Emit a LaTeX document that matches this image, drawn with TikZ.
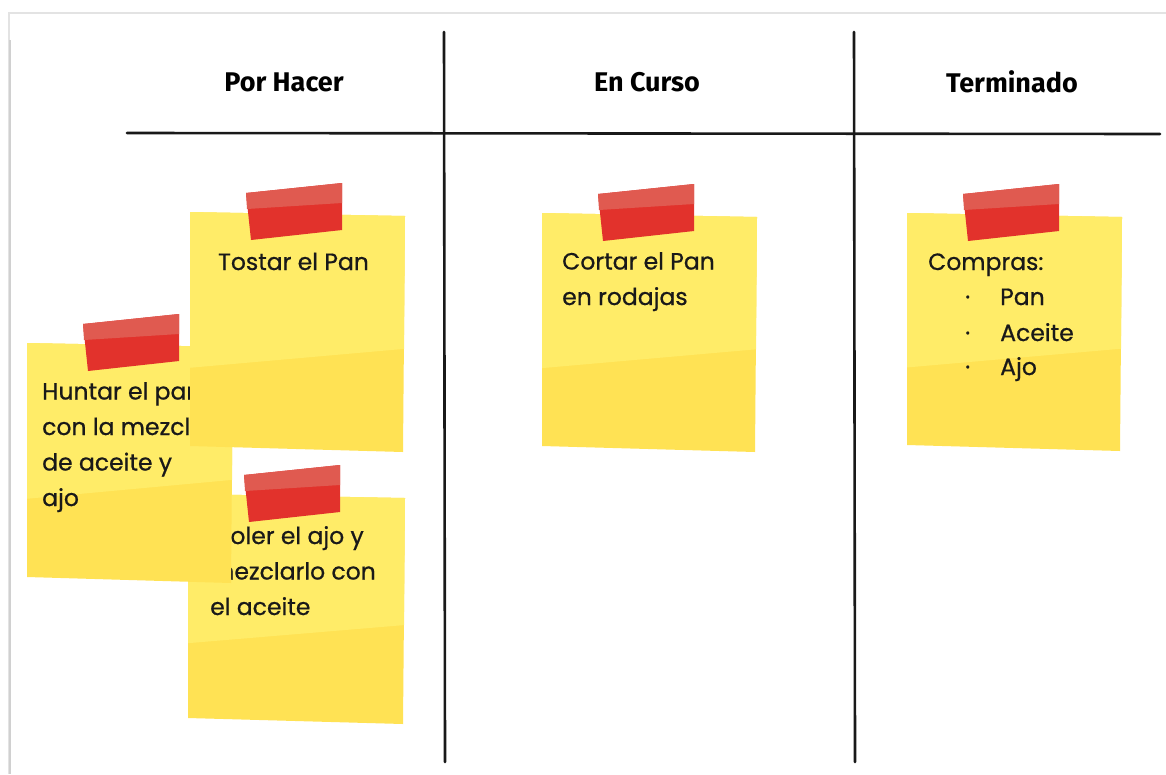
\documentclass[tikz,border=0pt]{standalone}
\usepackage{fontspec}
\setmainfont{Poppins}
\newfontfamily\notefont{Poppins}[FakeBold=0.7]
\newfontfamily\hdrfont{Fira Sans}
\definecolor{notelight}{HTML}{FFEC68}
\definecolor{notedark}{HTML}{FFE254}
\definecolor{tapelight}{HTML}{E05A50}
\definecolor{tapedark}{HTML}{E2322C}
\definecolor{framegray}{HTML}{D0D0D0}
\newcommand{\stickynote}[4]{%
  \fill[notedark] (#1,#2) -- (#1+#3,#2+4) -- (#1+#3-2,#2+#4+4) -- (#1,#2+#4-2) -- cycle;
  \fill[notelight] (#1,#2) -- (#1+#3,#2+4) -- (#1+#3-1,#2+0.58*#4) -- (#1,#2+0.66*#4) -- cycle;
  \fill[tapedark] (#1+56,#2-19) -- (#1+152,#2-29) -- (#1+152,#2+18) -- (#1+61,#2+28) -- cycle;
  \fill[tapelight] (#1+56,#2-19) -- (#1+152,#2-29) -- (#1+152,#2-9) -- (#1+57,#2-3) -- cycle;
}
\tikzset{
  hdr/.style={font=\hdrfont\bfseries\fontsize{27}{30}\selectfont, inner sep=0pt},
  notetext/.style={font=\notefont\fontsize{23.5}{35.5}\selectfont, text=black!90, align=left, inner sep=0pt, anchor=base west},
  boardline/.style={line width=2.6pt, line cap=round, black!90},
}
\begin{document}
\begin{tikzpicture}[x=1pt,y=-1pt]
\useasboundingbox (0,0) rectangle (1166,774);
\fill[white] (0,0) rectangle (1166,774);
% frame
\draw[framegray!60, line width=1.2pt] (9,774) -- (9,13) -- (1166,13);
\draw[framegray, line width=2pt] (9.5,40) -- (9.5,774);
% board lines
\coordinate (hl) at (127,133);
\coordinate (hr) at (1160,134);
\coordinate (v1t) at (444,32);
\coordinate (v1b) at (445,762);
\coordinate (v2t) at (854,32);
\coordinate (v2b) at (855,762);
\draw[boardline] (hl) -- (hr);
\draw[boardline] (v1t) -- (v1b);
\draw[boardline] (v2t) -- (v2b);
% headers
\node[hdr] (h1) at (284,82) {Por Hacer};
\node[hdr] (h2) at (647,82) {En Curso};
\node[hdr] (h3) at (1012,82) {Terminado};
% notes: Moler (bottom), Huntar, Tostar (top)
\stickynote{188}{494}{217}{226}
\node[notetext] (moler) at (210,615) {Moler el ajo y\\mezclarlo con\\el aceite};
\stickynote{27}{343}{206}{236}
\node[notetext] (huntar) at (42,506) {Huntar el pan\\con la mezcla\\de aceite y\\ajo};
\stickynote{190}{212}{215}{236}
\node[notetext] (tostar) at (218,270) {Tostar el Pan};
\stickynote{542}{213}{215}{235}
\node[notetext] (cortar) at (562,305) {Cortar el Pan\\en rodajas};
\stickynote{907}{213}{215}{234}
\node[notetext] (compras) at (928,270) {Compras:};
\node[notetext] (b1) at (965,305) {·};
\node[notetext] (b2) at (965,341) {·};
\node[notetext] (b3) at (965,375) {·};
\node[notetext] (i1) at (1000,305) {Pan};
\node[notetext] (i2) at (1000,341) {Aceite};
\node[notetext] (i3) at (1000,375) {Ajo};
\end{tikzpicture}
\end{document}
